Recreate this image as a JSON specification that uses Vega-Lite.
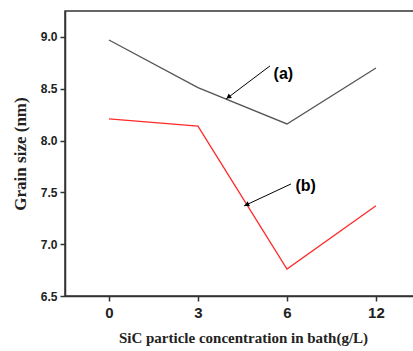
{
  "$schema": "https://vega.github.io/schema/vega-lite/v6.json",
  "autosize": "none",
  "width": 356,
  "height": 285,
  "padding": {"left": 65, "top": 11, "right": 0, "bottom": 55},
  "background": "white",
  "config": {
    "view": {"stroke": "#333", "strokeWidth": 1.5},
    "axis": {"grid": false, "domainColor": "#333", "domainWidth": 1.5, "tickColor": "#333", "tickWidth": 1.5, "tickSize": 5,
      "labelFont": "Liberation Sans", "labelFontWeight": "bold", "labelColor": "#222",
      "titleFont": "Liberation Serif", "titleFontWeight": "bold", "titleColor": "#222", "titleFontSize": 15}
  },
  "datasets": {
    "series": [
      {"idx": 0, "conc": 0, "size": 8.97, "s": "a"},
      {"idx": 1, "conc": 3, "size": 8.51, "s": "a"},
      {"idx": 2, "conc": 6, "size": 8.16, "s": "a"},
      {"idx": 3, "conc": 12, "size": 8.70, "s": "a"},
      {"idx": 0, "conc": 0, "size": 8.21, "s": "b"},
      {"idx": 1, "conc": 3, "size": 8.14, "s": "b"},
      {"idx": 2, "conc": 6, "size": 6.76, "s": "b"},
      {"idx": 3, "conc": 12, "size": 7.37, "s": "b"}
    ],
    "arrows": [
      {"x1": 1.809, "y1": 8.72, "x2": 1.315, "y2": 8.40, "hx": 1.342, "hy": 8.419, "ang": 233, "label": "(a)", "lx": 1.96, "ly": 8.643},
      {"x1": 2.045, "y1": 7.581, "x2": 1.517, "y2": 7.369, "hx": 1.547, "hy": 7.381, "ang": 245, "label": "(b)", "lx": 2.21, "ly": 7.562}
    ]
  },
  "layer": [
    {
      "data": {"name": "series"},
      "mark": {"type": "line", "strokeWidth": 1.3},
      "encoding": {
        "x": {"field": "idx", "type": "quantitative",
          "scale": {"domain": [-0.494, 3.506], "nice": false, "zero": false},
          "axis": {"values": [0, 1, 2, 3], "labelExpr": "['0','3','6','12'][datum.value]", "labelFontSize": 15, "labelPadding": 4,
            "title": "SiC particle concentration in bath(g/L)", "titlePadding": 10}},
        "y": {"field": "size", "type": "quantitative",
          "scale": {"domain": [6.5, 9.25], "nice": false, "zero": false},
          "axis": {"values": [6.5, 7.0, 7.5, 8.0, 8.5, 9.0], "format": ".1f", "labelFontSize": 12, "labelPadding": 3,
            "title": "Grain size (nm)", "titleFontSize": 17, "titlePadding": 11}},
        "color": {"field": "s", "type": "nominal", "scale": {"domain": ["a", "b"], "range": ["#555555", "#ff2a2a"]}, "legend": null}
      }
    },
    {
      "data": {"name": "arrows"},
      "mark": {"type": "rule", "color": "#000", "strokeWidth": 1},
      "encoding": {
        "x": {"field": "x1", "type": "quantitative"},
        "y": {"field": "y1", "type": "quantitative"},
        "x2": {"field": "x2"},
        "y2": {"field": "y2"}
      }
    },
    {
      "data": {"name": "arrows"},
      "mark": {"type": "point", "shape": "triangle-up", "filled": true, "color": "#000", "size": 30, "opacity": 1},
      "encoding": {
        "x": {"field": "hx", "type": "quantitative"},
        "y": {"field": "hy", "type": "quantitative"},
        "angle": {"field": "ang", "type": "quantitative", "scale": null}
      }
    },
    {
      "data": {"name": "arrows"},
      "mark": {"type": "text", "font": "Liberation Sans", "fontWeight": "bold", "fontSize": 16, "color": "#000"},
      "encoding": {
        "x": {"field": "lx", "type": "quantitative"},
        "y": {"field": "ly", "type": "quantitative"},
        "text": {"field": "label"}
      }
    }
  ]
}
